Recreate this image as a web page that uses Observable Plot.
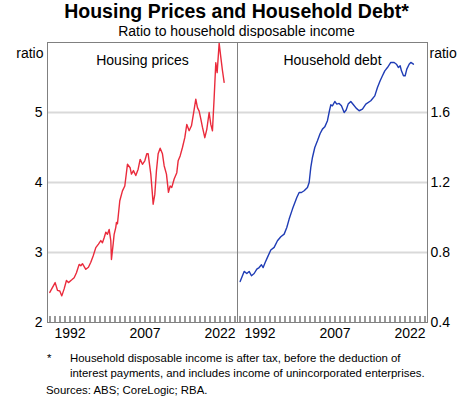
<!DOCTYPE html>
<html><head><meta charset="utf-8">
<script src="https://cdn.jsdelivr.net/npm/d3@7"></script>
<script src="https://cdn.jsdelivr.net/npm/@observablehq/plot@0.6"></script>
<style>
body{margin:0;background:#fff;font-family:"Liberation Sans",Arial,sans-serif;color:#000;}
#wrap{width:473px;}
#title{height:22px;line-height:22px;text-align:center;font-weight:bold;font-size:19.5px;}
#subtitle{height:16px;line-height:18px;text-align:center;font-size:14px;}
#charts{display:flex;width:473px;}
#charts svg{display:block;}
.fn{display:flex;font-size:11.4px;line-height:15px;}
.fn .star{width:23px;padding-left:47px;box-sizing:content-box;}
#foot{margin-top:5px;}
#src{font-size:11.4px;line-height:15px;padding-left:46px;margin-top:2px;}
</style></head>
<body><div id="wrap">
<div id="title">Housing Prices and Household Debt*</div>
<div id="subtitle">Ratio to household disposable income</div>
<div id="charts"></div>
<div id="foot">
<div class="fn"><div class="star">*</div><div>Household disposable income is after tax, before the deduction of<br>interest payments, and includes income of unincorporated enterprises.</div></div>
<div id="src">Sources: ABS; CoreLogic; RBA.</div>
</div>
</div>
<script>
const housingYears = [1987.96,1989.03,1989.49,1989.96,1990.36,1990.83,1991.29,1991.69,1992.36,1992.83,1993.29,1993.83,1994.16,1994.49,1995.16,1995.69,1996.16,1996.63,1997.16,1997.69,1998.16,1998.49,1998.83,1999.16,1999.49,1999.83,2000.16,2000.29,2000.63,2000.83,2001.16,2001.29,2001.49,2001.69,2001.96,2002.49,2002.96,2003.49,2004.03,2004.29,2004.69,2005.16,2005.63,2006.03,2006.49,2006.96,2007.36,2007.63,2008.16,2008.43,2008.63,2008.96,2009.29,2009.63,2010.03,2010.49,2010.83,2011.29,2011.69,2012.03,2012.36,2012.83,2013.36,2013.63,2014.03,2014.49,2014.96,2015.36,2015.83,2016.29,2016.69,2017.16,2017.49,2017.83,2018.16,2018.49,2018.96,2019.36,2019.83,2020.16,2020.49,2020.83,2021.16,2021.43,2021.83,2022.16,2022.49,2022.83];
const housingValues = [2.43,2.57,2.46,2.45,2.38,2.48,2.60,2.57,2.61,2.64,2.71,2.83,2.81,2.84,2.76,2.79,2.86,2.95,3.07,3.12,3.17,3.14,3.21,3.29,3.26,3.33,3.17,2.90,3.12,3.26,3.36,3.43,3.41,3.55,3.74,3.88,3.95,4.26,4.21,4.12,4.17,4.10,4.19,4.33,4.26,4.31,4.41,4.41,4.12,3.88,3.69,3.83,4.17,4.41,4.49,4.41,4.24,4.12,3.86,3.95,3.93,4.05,4.14,4.31,4.38,4.50,4.64,4.83,4.74,4.81,4.98,5.19,5.07,5.02,4.91,4.79,4.64,4.76,5.00,4.83,4.74,5.21,5.71,5.57,5.99,5.79,5.60,5.43];

const debtYears = [1988.03,1988.49,1988.83,1989.36,1989.83,1990.29,1990.83,1991.36,1991.83,1992.29,1992.63,1993.03,1993.49,1994.16,1994.83,1995.49,1996.16,1996.83,1997.36,1997.83,1998.49,1999.36,1999.83,2000.29,2000.83,2001.49,2001.83,2002.16,2002.49,2002.96,2003.49,2004.03,2004.49,2004.96,2005.49,2005.89,2006.16,2006.49,2006.96,2007.36,2007.83,2008.29,2008.83,2009.23,2009.63,2010.16,2010.69,2011.23,2011.83,2012.49,2013.16,2014.16,2014.96,2015.49,2016.03,2016.49,2016.96,2017.49,2018.16,2018.83,2019.29,2019.69,2020.03,2020.29,2020.69,2021.03,2021.36,2021.83,2022.16,2022.69];
const debtValues = [0.634,0.667,0.692,0.680,0.692,0.667,0.680,0.705,0.714,0.730,0.714,0.743,0.772,0.814,0.829,0.867,0.890,0.905,0.943,0.991,1.048,1.114,1.143,1.143,1.153,1.172,1.200,1.286,1.343,1.400,1.438,1.480,1.505,1.518,1.553,1.610,1.644,1.638,1.663,1.648,1.652,1.638,1.600,1.614,1.648,1.663,1.644,1.625,1.610,1.619,1.648,1.667,1.695,1.743,1.781,1.810,1.838,1.857,1.886,1.886,1.876,1.857,1.867,1.838,1.810,1.810,1.848,1.876,1.886,1.876];

const xDomain = [1987.5, 2025.5];
const xTickLabels = [1992, 2007, 2022];
const yearTicks = d3.range(1988, 2026);
const leftDomain = [2, 6];
const leftTicks = [2, 3, 4, 5];
const leftGrid = [3, 4, 5];
const rightDomain = [0.4, 2.0];
const rightTicks = [0.4, 0.8, 1.2, 1.6];
const rightGrid = [0.8, 1.2, 1.6];
const panelTitles = ["Housing prices", "Household debt"];
const unitLabel = "ratio";

const housing = housingYears.map((y, i) => ({year: y, value: housingValues[i]}));
const debt = debtYears.map((y, i) => ({year: y, value: debtValues[i]}));

const FONT = '"Liberation Sans", Arial, sans-serif';
const RED = "#ea2b3c", BLUE = "#1f3cb5", FRAME = "#808080", GRID = "#d9d9d9", TICKC = "#555";
const H = 308, MT = 4, MB = 24, PH = H - MT - MB, TICK = 6;
const style = {fontFamily: FONT, fontSize: "14px", color: "#000", background: "white", overflow: "visible"};
// short inward year ticks rising from the bottom edge, in each panel's own units
const tickRows = (dom) => yearTicks.map(t => ({x: t, y1: dom[0], y2: dom[0] + (dom[1] - dom[0]) * TICK / PH}));

function panel(opts) {
  return Plot.plot({
    width: opts.width, height: H, marginLeft: opts.ml, marginRight: opts.mr, marginTop: MT, marginBottom: MB,
    style,
    x: {domain: xDomain, ticks: xTickLabels, tickFormat: d3.format("d"), tickSize: 0, tickPadding: 6, label: null},
    y: {domain: opts.domain, ticks: opts.ticks, tickFormat: opts.fmt, axis: opts.axis, tickSize: 0, tickPadding: opts.pad, label: null},
    marks: [
      Plot.ruleY(opts.grid, {stroke: GRID, strokeWidth: 2}),
      Plot.ruleX(tickRows(opts.domain), {x: "x", y1: "y1", y2: "y2", stroke: TICKC, strokeWidth: 1.2}),
      Plot.line(opts.data, {x: "year", y: "value", stroke: opts.color, strokeWidth: 1.4}),
      Plot.frame({stroke: FRAME}),
      Plot.text([opts.title], {frameAnchor: "top", dy: 13, fontSize: 14}),
      Plot.text([unitLabel], opts.axis === "right"
        ? {frameAnchor: "top-right", dx: 2, dy: 6, textAnchor: "start", fontSize: 14}
        : {frameAnchor: "top-left", dx: -4, dy: 6, textAnchor: "end", fontSize: 14})
    ]
  });
}

const left = panel({width: 237, ml: 47, mr: 0, domain: leftDomain, ticks: leftTicks, fmt: d3.format("d"), axis: "left", pad: 5, grid: leftGrid, data: housing, color: RED, title: panelTitles[0]});
const right = panel({width: 236, ml: 0, mr: 46, domain: rightDomain, ticks: rightTicks, fmt: d3.format(".1f"), axis: "right", pad: 3, grid: rightGrid, data: debt, color: BLUE, title: panelTitles[1]});

document.getElementById("charts").append(left, right);
</script>
</body></html>
